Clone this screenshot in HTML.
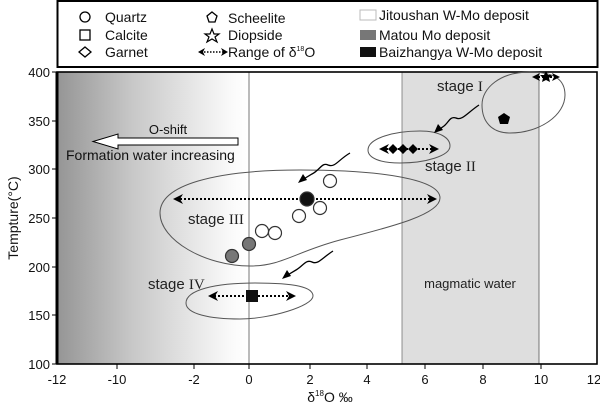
<!DOCTYPE html>
<html><head><meta charset="utf-8"><style>
html,body{margin:0;padding:0;background:#fff;}
svg{display:block;font-family:"Liberation Sans",sans-serif;}
</style></head><body>
<svg width="600" height="404" viewBox="0 0 600 404" xmlns="http://www.w3.org/2000/svg">
<defs>
<linearGradient id="g" x1="0" x2="1" y1="0" y2="0">
<stop offset="0" stop-color="#959595"/><stop offset="0.4" stop-color="#c8c8c8"/><stop offset="0.92" stop-color="#fafafa"/><stop offset="1" stop-color="#ffffff"/>
</linearGradient>
</defs>
<rect x="57.5" y="1" width="540" height="66" fill="#fff" stroke="#000" stroke-width="2"/>
<g font-size="14" fill="#111">
<circle cx="85" cy="17" r="5" fill="none" stroke="#000" stroke-width="1.3"/><text x="105" y="22">Quartz</text>
<rect x="80" y="30" width="10" height="10" fill="none" stroke="#000" stroke-width="1.3"/><text x="105" y="40">Calcite</text>
<path d="M85 47 L91 52 L85 57 L79 52 Z" fill="none" stroke="#000" stroke-width="1.3"/><text x="105" y="57">Garnet</text>
<path d="M212 12 L217 16 L215 22 L209 22 L207 16 Z" fill="none" stroke="#000" stroke-width="1.3"/><text x="228" y="23">Scheelite</text>
<path d="M212 29 L214 34 L219 34 L215 37 L217 42 L212 39 L207 42 L209 37 L205 34 L210 34 Z" fill="none" stroke="#000" stroke-width="1.2"/><text x="228" y="40">Diopside</text>
<line x1="201" y1="52" x2="225" y2="52" stroke="#000" stroke-width="1.5" stroke-dasharray="1.5,1.5"/>
<path d="M198 52 L205 48 L203 52 L205 56 Z M228 52 L221 48 L223 52 L221 56 Z" fill="#000"/>
<text x="228" y="57">Range of δ<tspan font-size="7" dy="-6">18</tspan><tspan dy="6">O</tspan></text>
<rect x="360" y="10" width="16" height="10" fill="#fff" stroke="#bbb"/><text x="379" y="20">Jitoushan W-Mo deposit</text>
<rect x="360" y="30" width="16" height="10" fill="#777"/><text x="379" y="40">Matou Mo deposit</text>
<rect x="360" y="47" width="16" height="10" fill="#111"/><text x="379" y="57">Baizhangya W-Mo deposit</text>
</g>
<rect x="57" y="72" width="190" height="292" fill="url(#g)"/>
<rect x="402" y="72" width="137" height="292" fill="#dedede"/>
<line x1="249" y1="72" x2="249" y2="364" stroke="#555" stroke-width="0.8"/>
<line x1="402" y1="72" x2="402" y2="364" stroke="#777" stroke-width="0.8"/>
<line x1="539" y1="72" x2="539" y2="364" stroke="#555" stroke-width="0.8"/>
<rect x="57" y="72" width="540" height="292" fill="none" stroke="#000" stroke-width="1.6"/>
<line x1="57" y1="72" x2="57" y2="364" stroke="#000" stroke-width="3"/>
<g font-size="13" fill="#111" text-anchor="end">
<g stroke="#000" stroke-width="1"><line x1="52" y1="72" x2="57" y2="72"/><line x1="52" y1="121" x2="57" y2="121"/><line x1="52" y1="169" x2="57" y2="169"/><line x1="52" y1="218" x2="57" y2="218"/><line x1="52" y1="267" x2="57" y2="267"/><line x1="52" y1="315" x2="57" y2="315"/><line x1="52" y1="364" x2="57" y2="364"/></g>
<text x="50" y="77">400</text><text x="50" y="126">350</text><text x="50" y="174">300</text><text x="50" y="223">250</text><text x="50" y="272">200</text><text x="50" y="320">150</text><text x="50" y="369">100</text>
</g>
<g font-size="13" fill="#111" text-anchor="middle">
<g stroke="#000" stroke-width="1"><line x1="117" y1="364" x2="117" y2="369"/><line x1="194" y1="364" x2="194" y2="369"/><line x1="249" y1="364" x2="249" y2="369"/><line x1="310" y1="364" x2="310" y2="369"/><line x1="367" y1="364" x2="367" y2="369"/><line x1="425" y1="364" x2="425" y2="369"/><line x1="483" y1="364" x2="483" y2="369"/><line x1="541" y1="364" x2="541" y2="369"/></g>
<text x="57" y="384">-12</text><text x="117" y="384">-10</text><text x="194" y="384">-2</text><text x="249" y="384">0</text><text x="310" y="384">2</text><text x="367" y="384">4</text><text x="425" y="384">6</text><text x="483" y="384">8</text><text x="541" y="384">10</text><text x="594" y="384">12</text>
<text x="330" y="402" font-size="14">δ<tspan font-size="8" dy="-6">18</tspan><tspan dy="6">O ‰</tspan></text>
</g>
<text transform="translate(18,218) rotate(-90)" font-size="14" text-anchor="middle" fill="#111">Tempture(°C)</text>
<path d="M238 138 L118 138 L118 134 L93 141.5 L118 149 L118 145 L238 145 Z" fill="#fff" stroke="#000" stroke-width="1"/>
<text x="168" y="134" font-size="13" text-anchor="middle" fill="#111">O-shift</text>
<text x="66" y="160" font-size="14" fill="#111">Formation water increasing</text>
<g fill="none" stroke="#555" stroke-width="1">
<path d="M250 266 C205 266 160 240 160 213 C160 185 215 170 300 170 C385 170 440 180 440 198 C440 214 395 226 340 240 C295 252 282 266 250 266 Z"/>
<path d="M186 303 C186 290 215 283 255 283 C295 283 313 287 313 296 C313 306 270 319 240 319 C210 319 186 314 186 303 Z"/>
<path d="M368 150 C368 138 395 131 420 131 C440 131 450 138 450 146 C450 156 425 163 400 163 C380 163 368 158 368 150 Z"/>
<path d="M482 105 C482 88 500 72 530 72 C555 72 565 80 565 95 C565 115 540 133 510 133 C492 133 482 122 482 105 Z"/>
</g>
<g fill="none" stroke="#000" stroke-width="1.3">
<path d="M350 153 C338 160 335 168 328 165 C322 162 320 170 312 174 L302 180"/>
<path d="M333 251 C322 258 318 265 312 262 C306 259 303 266 296 270 L286 276"/>
<path d="M479 105 C467 113 462 121 456 118 C450 116 449 122 444 126 L437 131"/>
</g>
<path d="M298 183 L303 174 L307 180 Z M282 279 L287 270 L291 276 Z M434 133 L438 124 L443 130 Z" fill="#000"/>
<g stroke="#000" stroke-width="2" stroke-dasharray="2,2">
<line x1="180" y1="199" x2="430" y2="199"/>
<line x1="214" y1="296" x2="290" y2="296"/>
<line x1="386" y1="149" x2="432" y2="149"/>
<line x1="538" y1="77" x2="554" y2="77"/>
</g>
<g fill="#000">
<path d="M173 199 L183 194 L180 199 L183 204 Z M437 199 L427 194 L430 199 L427 204 Z"/>
<path d="M208 296 L218 291 L215 296 L218 301 Z M296 296 L286 291 L289 296 L286 301 Z"/>
<path d="M379 149 L389 144 L386 149 L389 154 Z M439 149 L429 144 L432 149 L429 154 Z"/>
<path d="M532 77 L540 73 L538 77 L540 81 Z M560 77 L552 73 L554 77 L552 81 Z"/>
<path d="M393 144 L398 149 L393 154 L388 149 Z M403 144 L408 149 L403 154 L398 149 Z M413 144 L418 149 L413 154 L408 149 Z"/>
<path d="M546 71 L548 75 L552 75 L549 78 L550 82 L546 80 L542 82 L543 78 L540 75 L544 75 Z"/>
<path d="M504 113 L510 117 L508 124 L500 124 L498 117 Z"/>
</g>
<g stroke="#333" stroke-width="1.2">
<circle cx="330" cy="181" r="6.5" fill="#fff"/>
<circle cx="320" cy="208" r="6.5" fill="#fff"/>
<circle cx="299" cy="216" r="6.5" fill="#fff"/>
<circle cx="262" cy="231" r="6.5" fill="#fff"/>
<circle cx="275" cy="233" r="6.5" fill="#fff"/>
<circle cx="307" cy="199" r="7" fill="#111"/>
<circle cx="249" cy="244" r="6.5" fill="#777"/>
<circle cx="232" cy="256" r="6.5" fill="#777"/>
</g>
<rect x="246" y="290" width="12" height="12" fill="#111"/>
<g font-size="15" fill="#222">
<text x="437" y="91">stage <tspan font-family="Liberation Serif">I</tspan></text>
<text x="425" y="171">stage <tspan font-family="Liberation Serif">II</tspan></text>
<text x="188" y="224">stage <tspan font-family="Liberation Serif">III</tspan></text>
<text x="148" y="289">stage <tspan font-family="Liberation Serif">IV</tspan></text>
</g>
<text x="470" y="288" font-size="13" text-anchor="middle" fill="#222">magmatic water</text>
</svg>
</body></html>
